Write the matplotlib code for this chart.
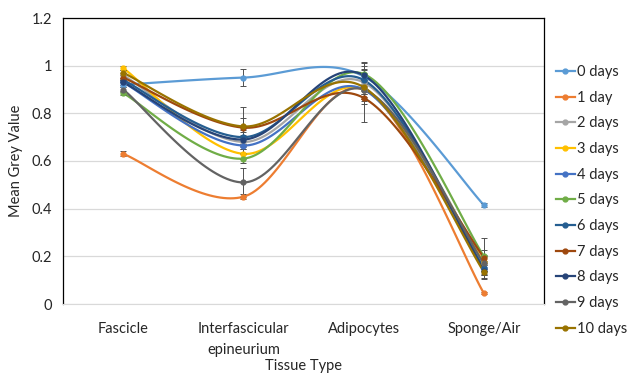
import numpy as np
import matplotlib
matplotlib.use('Agg')
import matplotlib.pyplot as plt

plt.rcParams['font.family'] = ['Lato', 'DejaVu Sans']

categories = ['Fascicle', 'Interfascicular\nepineurium', 'Adipocytes', 'Sponge/Air']
labels = ['0 days', '1 day', '2 days', '3 days', '4 days', '5 days',
          '6 days', '7 days', '8 days', '9 days', '10 days']

d0 = [0.92, 0.95, 0.955, 0.415]
d1 = [0.63, 0.45, 0.90, 0.045]
d2 = [0.96, 0.68, 0.93, 0.17]
d3 = [0.99, 0.63, 0.90, 0.175]
d4 = [0.93, 0.665, 0.90, 0.15]
d5 = [0.885, 0.61, 0.965, 0.20]
d6 = [0.94, 0.70, 0.94, 0.15]
d7 = [0.95, 0.74, 0.865, 0.195]
d8 = [0.93, 0.69, 0.96, 0.14]
d9 = [0.90, 0.51, 0.90, 0.17]
d10 = [0.97, 0.745, 0.91, 0.135]

e0 = [0.01, 0.035, 0.03, 0.01]
e1 = [0.01, 0.01, 0.03, 0.005]
e2 = [0.01, 0.03, 0.05, 0.03]
e3 = [0.01, 0.02, 0.04, 0.03]
e4 = [0.01, 0.03, 0.04, 0.03]
e5 = [0.01, 0.02, 0.05, 0.075]
e6 = [0.01, 0.03, 0.06, 0.03]
e7 = [0.01, 0.04, 0.10, 0.03]
e8 = [0.01, 0.03, 0.05, 0.03]
e9 = [0.01, 0.06, 0.06, 0.03]
e10 = [0.01, 0.08, 0.06, 0.03]

series = [d0, d1, d2, d3, d4, d5, d6, d7, d8, d9, d10]
errors = [e0, e1, e2, e3, e4, e5, e6, e7, e8, e9, e10]
colors = ['#5B9BD5', '#ED7D31', '#A5A5A5', '#FFC000', '#4472C4', '#70AD47',
          '#255E91', '#9E480E', '#264478', '#636363', '#997300']


def smooth(x, y, n=40):
    # bezier smoothing like excel (catmull-rom style tangents)
    x = np.asarray(x, float)
    y = np.asarray(y, float)
    px = np.concatenate([[x[0]], x, [x[-1]]])
    py = np.concatenate([[y[0]], y, [y[-1]]])
    xs, ys = [], []
    t = np.linspace(0, 1, n)
    for i in range(1, len(px) - 2):
        p0 = np.array([px[i], py[i]])
        p3 = np.array([px[i + 1], py[i + 1]])
        c1 = p0 + (np.array([px[i + 1], py[i + 1]]) - np.array([px[i - 1], py[i - 1]])) / 6
        c2 = p3 - (np.array([px[i + 2], py[i + 2]]) - np.array([px[i], py[i]])) / 6
        b = ((1 - t) ** 3)[:, None] * p0 + (3 * (1 - t) ** 2 * t)[:, None] * c1 \
            + (3 * (1 - t) * t ** 2)[:, None] * c2 + (t ** 3)[:, None] * p3
        xs.extend(b[:, 0])
        ys.extend(b[:, 1])
    return np.array(xs), np.array(ys)


fig = plt.figure(figsize=(6.3, 3.73), dpi=100)
ax = fig.add_axes([63 / 630, 1 - 304 / 373, (544 - 63) / 630, (304 - 18) / 373])

x = np.arange(len(categories))
for vals, err, c, lab in zip(series, errors, colors, labels):
    sx, sy = smooth(x, vals)
    ax.plot(sx, sy, color=c, lw=1.6, zorder=2)
    ax.errorbar(x, vals, yerr=err, fmt='none', ecolor='#505050', elinewidth=0.7,
                capsize=2.5, capthick=0.7, zorder=3)
    ax.plot(x, vals, 'o', color=c, ms=3.5, zorder=4)
    ax.plot([], [], '-o', color=c, lw=1.6, ms=3.5, label=lab)

ax.set_xlim(-0.5, 3.5)
ax.set_ylim(0, 1.2)
ax.set_yticks([0, 0.2, 0.4, 0.6, 0.8, 1, 1.2])
ax.set_yticklabels(['0', '0.2', '0.4', '0.6', '0.8', '1', '1.2'])
ax.set_xticks(x)
ax.set_xticklabels(categories, fontsize=10.5, color='#262626', linespacing=1.6)
ax.tick_params(axis='y', labelsize=10.5, labelcolor='#262626', length=0, pad=8)
ax.tick_params(axis='x', length=0, pad=13)
ax.grid(axis='y', color='#D9D9D9', lw=0.9)
ax.set_axisbelow(True)
for s in ['left', 'top', 'right']:
    ax.spines[s].set_color('#000000')
    ax.spines[s].set_linewidth(0.9)
ax.spines['bottom'].set_color('#D9D9D9')
ax.set_ylabel('Mean Grey Value', fontsize=10.5, color='#262626', labelpad=6)
ax.set_xlabel('Tissue Type', fontsize=10.5, color='#262626', labelpad=2)

ax.legend(loc='upper left', bbox_to_anchor=(556 / 630, 1 - 65 / 373),
          bbox_transform=fig.transFigure, frameon=False, fontsize=10.5,
          handlelength=1.3, labelspacing=0.8, handletextpad=0.15,
          borderaxespad=0, borderpad=0, labelcolor='#262626')

fig.savefig('out.png', dpi=100)
